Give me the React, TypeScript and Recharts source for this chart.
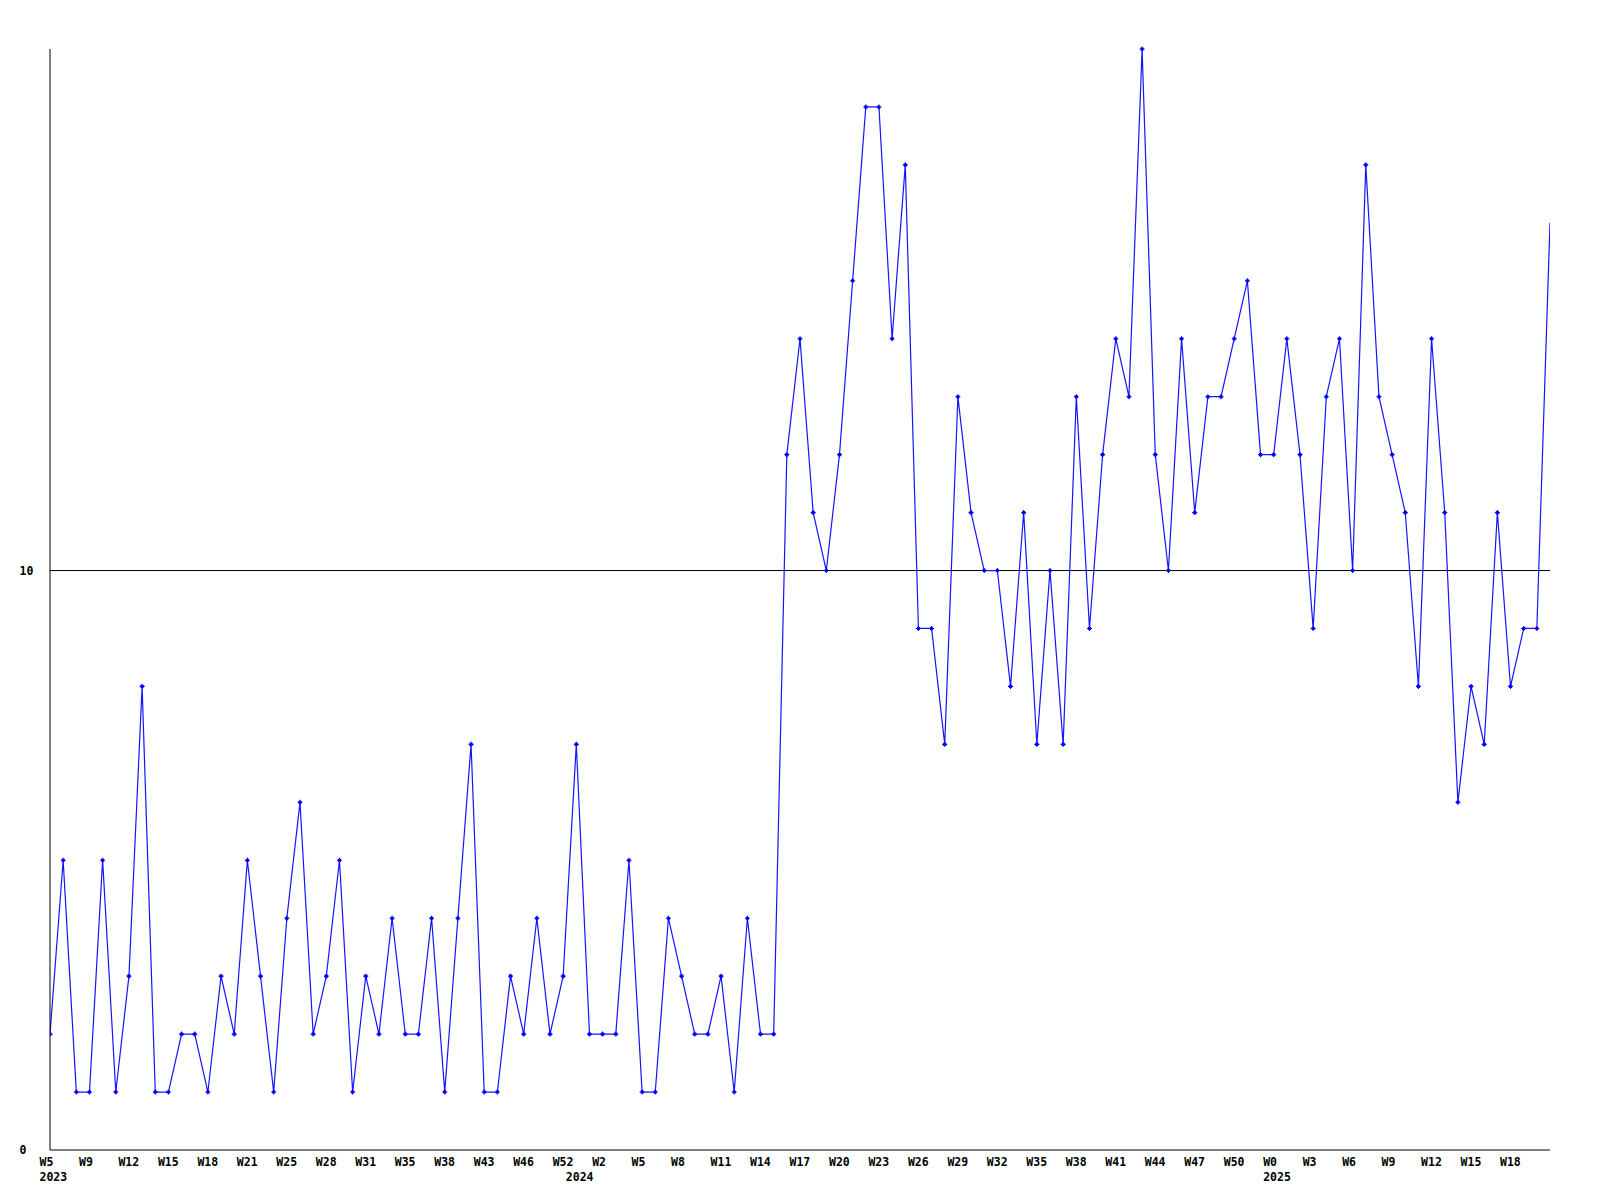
import { LineChart, Line, XAxis, YAxis, ReferenceLine } from "recharts"

// weekly counts, first point = W5 2023
const values = [
  2, 5, 1, 1, 5, 1, 3, 8, 1, 1, 2, 2, 1, 3, 2, 5, 3, 1, 4, 6,
  2, 3, 5, 1, 3, 2, 4, 2, 2, 4, 1, 4, 7, 1, 1, 3, 2, 4, 2, 3,
  7, 2, 2, 2, 5, 1, 1, 4, 3, 2, 2, 3, 1, 4, 2, 2, 12, 14, 11, 10,
  12, 15, 18, 18, 14, 17, 9, 9, 7, 13, 11, 10, 10, 8, 11, 7, 10, 7, 13, 9,
  12, 14, 13, 19, 12, 10, 14, 11, 13, 13, 14, 15, 12, 12, 14, 12, 9, 13, 14, 10,
  17, 13, 12, 11, 8, 14, 11, 6, 8, 7, 11, 8, 9, 9, 16,
]

// one label every 3rd week, as printed on the original
const weekLabels = [
  "W5", "W9", "W12", "W15", "W18", "W21", "W25", "W28", "W31", "W35", "W38", "W43", "W46",
  "W52", "W2", "W5", "W8", "W11", "W14", "W17", "W20", "W23", "W26", "W29", "W32", "W35",
  "W38", "W41", "W44", "W47", "W50", "W0", "W3", "W6", "W9", "W12", "W15", "W18",
]
const weekTickAt = weekLabels.map((_, k) => k * 3)

const yearLabels = ["2023", "2024", "2025"]
const yearTickAt = [0, 40, 93]

const yTicks = [0, 10]

const data = values.map((v, i) => ({ i, v }))

const tickInfo = new Map<number, { week?: string; year?: string }>()
weekTickAt.forEach((at, k) => tickInfo.set(at, { week: weekLabels[k] }))
yearTickAt.forEach((at, k) => tickInfo.set(at, { ...(tickInfo.get(at) || {}), year: yearLabels[k] }))
const allTicks = [...tickInfo.keys()].sort((a, b) => a - b)

const FONT = "'DejaVu Sans Mono', monospace"
const FONT_SIZE = 11.5
const PLOT_BOTTOM = 1150

const XTick = (props: any) => {
  const info = tickInfo.get(props.payload.value) || {}
  const x = props.x - 10.5
  return (
    <g>
      {info.week && (
        <text x={x} y={PLOT_BOTTOM + 11.5} fontFamily={FONT} fontWeight="bold" fontSize={FONT_SIZE} fill="#000" dominantBaseline="central">
          {info.week}
        </text>
      )}
      {info.year && (
        <text x={x} y={PLOT_BOTTOM + 26.5} fontFamily={FONT} fontWeight="bold" fontSize={FONT_SIZE} fill="#000" dominantBaseline="central">
          {info.year}
        </text>
      )}
    </g>
  )
}

const YTick = (props: any) => (
  <text x={19.5} y={props.y} fontFamily={FONT} fontWeight="bold" fontSize={FONT_SIZE} fill="#000" dominantBaseline="central">
    {props.payload.value}
  </text>
)

const Marker = (props: any) => {
  const { cx, cy, index } = props
  if (index === values.length - 1) return <g key={`m${index}`} />
  return (
    <path
      key={`m${index}`}
      d={`M${cx - 2.5},${cy}H${cx + 2.5}M${cx},${cy - 2.5}V${cy + 2.5}M${cx - 1},${cy - 1}h2v2h-2z`}
      stroke="#0000ff"
      strokeWidth={1.1}
      fill="#0000ff"
    />
  )
}

export default function App() {
  return (
    <div style={{ position: "absolute", left: 0, top: 0, background: "#fff" }}>
      <LineChart width={1600} height={1200} data={data} margin={{ top: 49, right: 50, bottom: 0, left: 20 }}>
        <XAxis
          dataKey="i"
          type="number"
          domain={[0, 114]}
          ticks={allTicks}
          interval={0}
          height={50}
          tickLine={false}
          axisLine={{ stroke: "#000" }}
          tick={<XTick />}
          allowDataOverflow
        />
        <YAxis
          type="number"
          domain={[0, 19]}
          ticks={yTicks}
          width={30}
          tickLine={false}
          axisLine={{ stroke: "#000" }}
          tick={<YTick />}
        />
        <ReferenceLine y={10} stroke="#000" />
        <Line
          dataKey="v"
          stroke="#1414ff"
          strokeWidth={1.2}
          dot={<Marker />}
          activeDot={false}
          isAnimationActive={false}
        />
      </LineChart>
    </div>
  )
}
